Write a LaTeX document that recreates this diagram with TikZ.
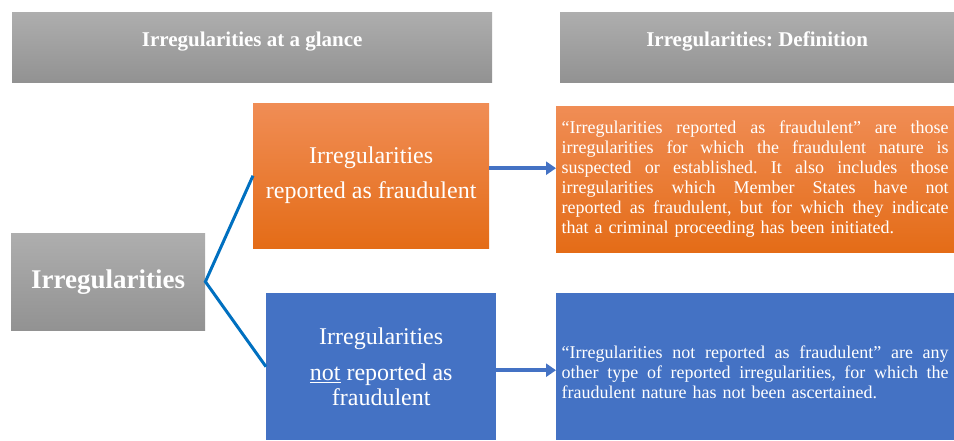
\documentclass[tikz,border=0pt]{standalone}
\usepackage{fontspec}
\setmainfont{Liberation Serif}
\usetikzlibrary{arrows.meta}
\frenchspacing
\definecolor{gtop}{HTML}{AEAEAE}
\definecolor{gbot}{HTML}{929292}
\definecolor{otop}{HTML}{F08D55}
\definecolor{obot}{HTML}{E46C17}
\definecolor{bfill}{HTML}{4472C4}
\definecolor{linkblue}{HTML}{0070C0}
\newcommand\jline[1]{{\spaceskip=0pt\xspaceskip=0pt\makebox[387pt][s]{#1}}}
\begin{document}
\begin{tikzpicture}[x=1pt,y=-1pt,
  box/.style={anchor=north west,inner sep=0pt,text=white,align=center},
  graybox/.style={box,top color=gtop,bottom color=gbot,draw=none},
  orangebox/.style={box,top color=otop,bottom color=obot,draw=none},
  bluebox/.style={box,fill=bfill,draw=none},
  hdrfont/.style={font=\fontsize{21pt}{25pt}\selectfont\bfseries},
  midfont/.style={font=\fontsize{24pt}{25pt}\selectfont},
  deffont/.style={font=\fontsize{18pt}{20pt}\selectfont\frenchspacing},
  deftext/.style={text width=387pt,align=left,inner xsep=5.5pt,inner ysep=0pt},
  link/.style={draw=linkblue,line width=3pt},
  flow/.style={draw=bfill,line width=3.5pt,-{Triangle[length=10pt,width=13pt]}}]
\useasboundingbox (0,0) rectangle (954,440);
\fill[white] (0,0) rectangle (954,440);
% headers
\node[graybox,hdrfont,minimum width=480pt,minimum height=70pt,text height=14pt,text depth=16pt] (h1) at (12,12) {Irregularities at a glance};
\node[graybox,hdrfont,minimum width=394pt,minimum height=70pt,text height=14pt,text depth=16pt] (h2) at (560,12) {Irregularities: Definition};
% left
\node[graybox,font=\fontsize{27pt}{32pt}\selectfont\bfseries,minimum width=194pt,minimum height=97pt] (irr) at (11,233) {Irregularities};
% middle
\node[orangebox,midfont,minimum width=236pt,minimum height=145pt] (rep) at (253,103) {Irregularities\\[10pt]reported as fraudulent};
\node[bluebox,midfont,minimum width=230pt,minimum height=147pt] (nrep) at (266,293) {Irregularities\\[11pt]\underline{not} reported as\\fraudulent};
% definitions
\node[orangebox,deffont,deftext,minimum height=146pt] (d1) at (556,106) {%
\jline{“Irregularities reported as fraudulent” are those}\\
\jline{irregularities for which the fraudulent nature is}\\
\jline{suspected or established. It also includes those}\\
\jline{irregularities which Member States have not}\\
\jline{reported as fraudulent, but for which they indicate}\\
that a criminal proceeding has been initiated.};
\node[bluebox,deffont,deftext,minimum height=147pt,text depth=30pt] (d2) at (556,293) {%
\jline{“Irregularities not reported as fraudulent” are any}\\
\jline{other type of reported irregularities, for which the}\\
fraudulent nature has not been ascertained.};
% connectors
\draw[link] (rep.west) -- (irr.east) -- (nrep.west);
\coordinate (a1) at ([yshift=7.5pt]rep.east);
\coordinate (a2) at ([yshift=-3.5pt]nrep.east);
\draw[flow] (a1) -- (a1 -| d1.west);
\draw[flow] (a2) -- (a2 -| d2.west);
\end{tikzpicture}
\end{document}
